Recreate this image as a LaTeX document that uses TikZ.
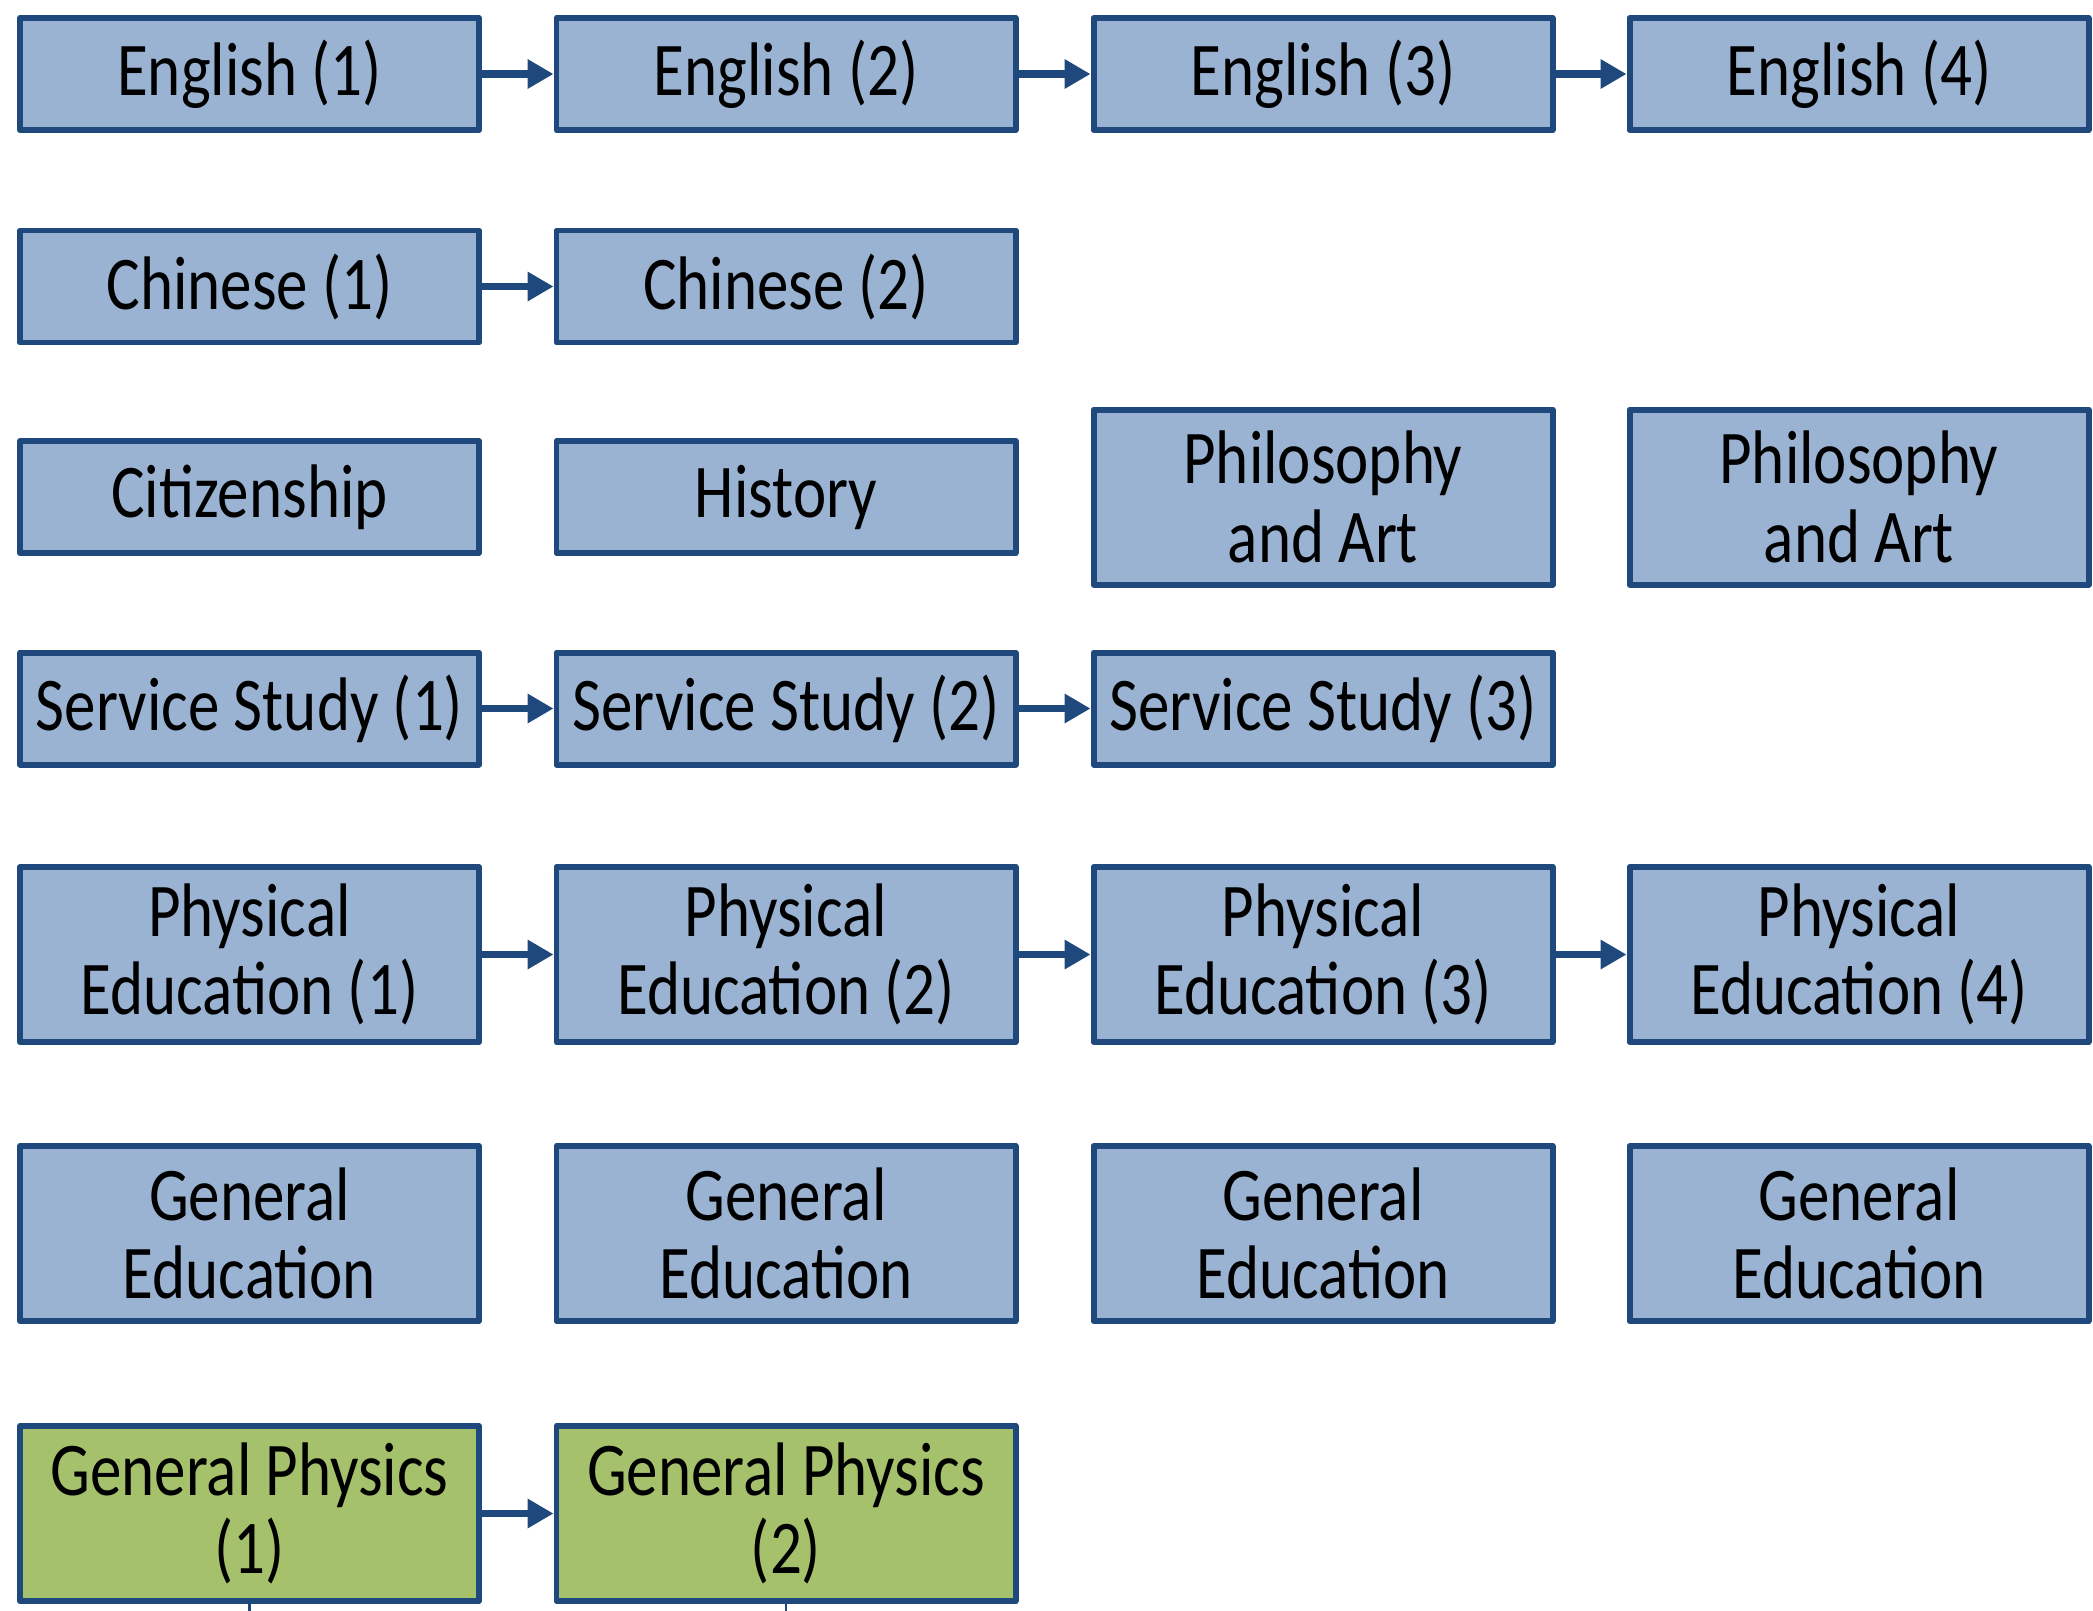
\documentclass[tikz,border=0pt]{standalone}
\usepackage{fontspec}
\setmainfont{Carlito}[FakeStretch=0.83]
\usetikzlibrary{arrows.meta}
\definecolor{boxblue}{RGB}{154,179,210}
\definecolor{edgeblue}{RGB}{31,73,125}
\definecolor{boxgreen}{RGB}{166,193,108}
\begin{document}
\begin{tikzpicture}[block/.style={rectangle, draw=edgeblue, fill=boxblue, line width=1.7pt, line join=round,
    minimum width=4.59cm, minimum height=1.12cm, inner sep=0pt, align=center,
    font=\fontsize{21.6}{22.4}\selectfont},
  tallblock/.style={block, minimum height=1.75cm},
  physblock/.style={tallblock, fill=boxgreen},
  link/.style={-{Triangle[length=0.26cm,width=0.28cm]}, draw=edgeblue, line width=2pt}]
\useasboundingbox (0,0) rectangle (20.93,-16.10);
\node at (2.495, -0.74)  (eng1) [block] {English (1)};
\node at (7.86, -0.74)   (eng2) [block] {English (2)};
\node at (13.23, -0.74)  (eng3) [block] {English (3)};
\node at (18.59, -0.74)  (eng4) [block] {English (4)};
\node at (2.495, -2.865) (chn1) [block] {Chinese (1)};
\node at (7.86, -2.865)  (chn2) [block] {Chinese (2)};
\node at (2.495, -4.97)  (cit)  [block] {Citizenship};
\node at (7.86, -4.97)   (hist) [block] {History};
\node at (13.23, -4.97)  (phil1) [tallblock] {Philosophy\\and Art};
\node at (18.59, -4.97)  (phil2) [tallblock] {Philosophy\\and Art};
\node at (2.495, -7.085) (svc1) [block] {Service Study (1)};
\node at (7.86, -7.085)  (svc2) [block] {Service Study (2)};
\node at (13.23, -7.085) (svc3) [block] {Service Study (3)};
\node at (2.495, -9.545) (pe1) [tallblock] {Physical\\Education (1)};
\node at (7.86, -9.545)  (pe2) [tallblock] {Physical\\Education (2)};
\node at (13.23, -9.545) (pe3) [tallblock] {Physical\\Education (3)};
\node at (18.59, -9.545) (pe4) [tallblock] {Physical\\Education (4)};
\node at (2.495, -12.335) (ge1) [tallblock] {General\\Education};
\node at (7.86, -12.335)  (ge2) [tallblock] {General\\Education};
\node at (13.23, -12.335) (ge3) [tallblock] {General\\Education};
\node at (18.59, -12.335) (ge4) [tallblock] {General\\Education};
\node at (2.495, -15.135) (gp1) [physblock] {General Physics\\(1)};
\node at (7.86, -15.135)  (gp2) [physblock] {General Physics\\(2)};
\coordinate (gp1end) at (2.495, -16.2);
\coordinate (gp2end) at (7.86, -16.2);
\draw [link] (eng1.east) -- (eng2.west);
\draw [link] (eng2.east) -- (eng3.west);
\draw [link] (eng3.east) -- (eng4.west);
\draw [link] (chn1.east) -- (chn2.west);
\draw [link] (svc1.east) -- (svc2.west);
\draw [link] (svc2.east) -- (svc3.west);
\draw [link] (pe1.east) -- (pe2.west);
\draw [link] (pe2.east) -- (pe3.west);
\draw [link] (pe3.east) -- (pe4.west);
\draw [link] (gp1.east) -- (gp2.west);
\draw [edgeblue, line width=0.6pt] (gp1.south) -- (gp1end);
\draw [edgeblue, line width=0.6pt] (gp2.south) -- (gp2end);
\end{tikzpicture}
\end{document}
